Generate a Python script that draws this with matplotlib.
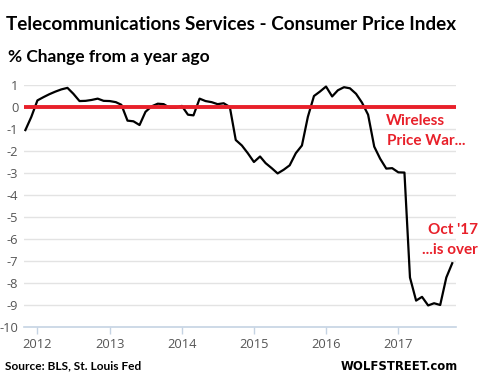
import pandas as pd
import matplotlib
matplotlib.use("Agg")
import matplotlib.pyplot as plt
import matplotlib.dates as mdates

# monthly CPI telecom services, % change y/y, Nov 2011 - Oct 2017
start_month = "2011-11-01"
values = [
    -1.05, -0.45, 0.30, 0.45, 0.58, 0.70, 0.80, 0.87, 0.60, 0.27,
    0.28, 0.32, 0.38, 0.28, 0.27, 0.22, 0.10, -0.62, -0.65, -0.82,
    -0.22, 0.03, 0.15, 0.13, -0.04, -0.04, 0.05, -0.35, -0.38, 0.38,
    0.27, 0.22, 0.13, 0.17, 0.00, -1.50, -1.75, -2.10, -2.50, -2.25,
    -2.55, -2.78, -3.02, -2.85, -2.65, -2.10, -1.75, -0.45, 0.50, 0.70,
    0.93, 0.48, 0.76, 0.90, 0.85, 0.60, 0.20, -0.35, -1.80, -2.35,
    -2.80, -2.78, -2.97, -2.98, -7.75, -8.80, -8.63, -9.02, -8.92, -9.00,
    -7.75, -7.10,
]
y_ticks = list(range(-10, 2))
year_ticks = [2012, 2013, 2014, 2015, 2016, 2017]

RED = "#e8202a"
GRID = "#e3e3e3"
AXIS = "#c5d3e3"
TICK_TXT = "#555555"


def plot(out_path):
    dates = pd.date_range(start_month, periods=len(values), freq="MS")

    fig = plt.figure(figsize=(4.81, 3.80), dpi=100)
    ax = fig.add_axes([24 / 481, 1 - 327 / 380, (456 - 24) / 481, (327 - 85) / 380])

    ax.set_ylim(-10, 1)
    ax.set_yticks(y_ticks)
    ax.set_yticklabels([str(v) for v in y_ticks])
    for v in y_ticks[1:]:
        ax.axhline(v, color=GRID, lw=1.0, zorder=1)

    ax.plot(dates, values, color="black", lw=1.6, zorder=3)
    ax.axhline(0, color=RED, lw=2.8, zorder=4)

    ax.set_xlim(pd.Timestamp("2011-10-25"), pd.Timestamp("2017-10-20"))
    ax.set_xticks([pd.Timestamp(f"{y}-01-01") for y in year_ticks])
    ax.xaxis.set_major_formatter(mdates.DateFormatter("%Y"))

    for side in ["top", "right", "left"]:
        ax.spines[side].set_visible(False)
    ax.spines["bottom"].set_color(AXIS)
    ax.spines["bottom"].set_linewidth(1.2)
    ax.tick_params(axis="x", colors=AXIS, length=5, width=1, labelcolor=TICK_TXT,
                   labelsize=9.3, pad=3)
    ax.tick_params(axis="y", length=0, labelcolor=TICK_TXT, labelsize=9.3, pad=4)
    for lab in ax.get_xticklabels() + ax.get_yticklabels():
        lab.set_fontfamily("Open Sans")

    fig.text(6 / 481, 1 - 25 / 380, "Telecommunications Services - Consumer Price Index",
             fontsize=13.6, fontweight="bold", family="Lato", va="center", ha="left")
    fig.text(8 / 481, 1 - 57 / 380, "% Change from a year ago",
             fontsize=12.5, fontweight="bold", family="Lato", va="center", ha="left")
    fig.text(5 / 481, 1 - 366 / 380, "Source: BLS, St. Louis Fed",
             fontsize=8.6, fontweight="bold", family="Lato", va="center", ha="left")
    fig.text(458 / 481, 1 - 366 / 380, "WOLFSTREET.com",
             fontsize=8.4, fontweight="bold", family="DejaVu Sans", va="center", ha="right")

    fig.text(386 / 481, 1 - 121 / 380, "Wireless", color=RED, fontsize=11,
             fontweight="bold", family="Lato", va="center", ha="left")
    fig.text(387 / 481, 1 - 141 / 380, "Price War...", color=RED, fontsize=11,
             fontweight="bold", family="Lato", va="center", ha="left")
    fig.text(478 / 481, 1 - 230 / 380, "Oct '17", color=RED, fontsize=11,
             fontweight="bold", family="Lato", va="center", ha="right")
    fig.text(478 / 481, 1 - 250 / 380, "...is over", color=RED, fontsize=11,
             fontweight="bold", family="Lato", va="center", ha="right")

    fig.savefig(out_path, dpi=100)
    plt.close(fig)


def main():
    plot("out.png")


if __name__ == "__main__":
    main()
